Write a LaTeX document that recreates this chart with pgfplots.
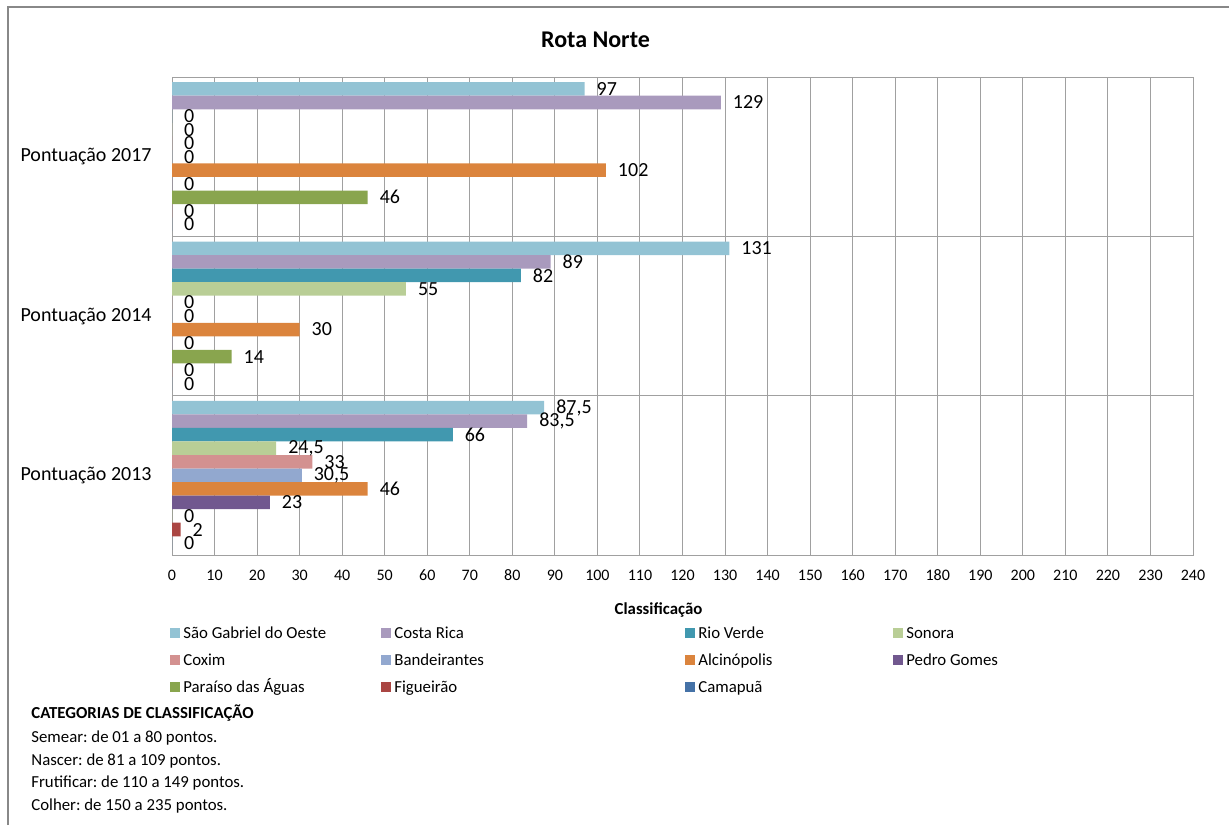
\documentclass[border=0pt]{standalone}
\usepackage{fontspec}
\setmainfont{Carlito}
\usepackage{pgfplots}
\pgfplotsset{compat=1.18}
\frenchspacing
\definecolor{cSG}{HTML}{93C3D4}
\definecolor{cCR}{HTML}{A99ABD}
\definecolor{cRV}{HTML}{4198AF}
\definecolor{cSo}{HTML}{B9CE96}
\definecolor{cCx}{HTML}{D39190}
\definecolor{cBa}{HTML}{92A8CF}
\definecolor{cAl}{HTML}{DB843D}
\definecolor{cPG}{HTML}{71588F}
\definecolor{cPa}{HTML}{89A54E}
\definecolor{cFi}{HTML}{AA4643}
\definecolor{cCa}{HTML}{4572A7}
\definecolor{gridgray}{HTML}{A0A0A0}
\definecolor{framegray}{HTML}{888888}
\pgfplotsset{sq legend/.style={legend image code/.code={\fill[##1] (0pt,-2.5pt) rectangle (5pt,2.5pt);}}}
\begin{document}
\frenchspacing
\begin{tikzpicture}
\useasboundingbox (0,0) rectangle (614.5pt,-412.5pt);
\draw[framegray, line width=1pt] (4pt,-412.5pt) -- (4pt,-3.5pt) -- (614.5pt,-3.5pt);
\node[font=\fontsize{12}{14}\selectfont\bfseries] at (297.75pt,-20pt) {Rota Norte};
\begin{axis}[
  at={(86pt,-277.5pt)}, anchor=south west,
  scale only axis, width=510.5pt, height=239pt,
  xbar, bar width=0.085,
  xmin=0, xmax=240, ymin=-0.5, ymax=2.5,
  xtick={0,10,...,240},
  ytick={0,1,2},
  yticklabels={Pontuação 2013, Pontuação 2014, Pontuação 2017},
  minor ytick={0.5,1.5},
  xmajorgrids=true, yminorgrids=true,
  major grid style={gridgray, line width=0.5pt},
  minor grid style={gridgray, line width=0.5pt},
  axis line style={gridgray, line width=0.5pt},
  major tick length=0pt, minor tick length=0pt,
  /pgf/number format/assume math mode=true,
  /pgf/number format/use comma,
  xticklabel style={font=\fontsize{8}{10}\selectfont, inner sep=0pt, anchor=base, yshift=-12.5pt},
  yticklabel style={font=\fontsize{10}{12}\selectfont, inner sep=0pt, anchor=east, xshift=-10pt},
  xlabel={Classificação},
  xlabel style={font=\fontsize{8.4}{10}\selectfont\bfseries, at={(axis description cs:0.4765,-0.115)}, anchor=center},
  clip=false,
  nodes near coords,
  every node near coord/.append style={font=\fontsize{10}{12}\selectfont, text=black, anchor=west, xshift=2.5pt},
  legend columns=4,
  legend cell align=left,
  legend style={draw=none, fill=none, at={(axis description cs:-0.002,-0.1444)}, anchor=north west,
    inner sep=0pt, column sep=0pt, row sep=4.5pt,
    font=\fontsize{8.4}{10}\selectfont,
    nodes={inner xsep=1.5pt, inner ysep=0pt, text height=7pt, text depth=2pt, anchor=west}},
]
\addplot[fill=cSG, draw=none, bar shift=0.425, sq legend] coordinates {(87.5,0) (131,1) (97,2)};
\addlegendentry{\makebox[97.5pt][l]{São Gabriel do Oeste}}
\addplot[fill=cCR, draw=none, bar shift=0.34, sq legend] coordinates {(83.5,0) (89,1) (129,2)};
\addlegendentry{\makebox[144pt][l]{Costa Rica}}
\addplot[fill=cRV, draw=none, bar shift=0.255, sq legend] coordinates {(66,0) (82,1) (0,2)};
\addlegendentry{\makebox[96pt][l]{Rio Verde}}
\addplot[fill=cSo, draw=none, bar shift=0.17, sq legend] coordinates {(24.5,0) (55,1) (0,2)};
\addlegendentry{Sonora}
\addplot[fill=cCx, draw=none, bar shift=0.085, sq legend] coordinates {(33,0) (0,1) (0,2)};
\addlegendentry{Coxim}
\addplot[fill=cBa, draw=none, bar shift=0, sq legend] coordinates {(30.5,0) (0,1) (0,2)};
\addlegendentry{Bandeirantes}
\addplot[fill=cAl, draw=none, bar shift=-0.085, sq legend] coordinates {(46,0) (30,1) (102,2)};
\addlegendentry{Alcinópolis}
\addplot[fill=cPG, draw=none, bar shift=-0.17, sq legend] coordinates {(23,0) (0,1) (0,2)};
\addlegendentry{Pedro Gomes}
\addplot[fill=cPa, draw=none, bar shift=-0.255, sq legend] coordinates {(0,0) (14,1) (46,2)};
\addlegendentry{Paraíso das Águas}
\addplot[fill=cFi, draw=none, bar shift=-0.34, sq legend] coordinates {(2,0) (0,1) (0,2)};
\addlegendentry{Figueirão}
\addplot[fill=cCa, draw=none, bar shift=-0.425, sq legend] coordinates {(0,0) (0,1) (0,2)};
\addlegendentry{Camapuã}
\end{axis}
\begin{scope}[every node/.style={font=\fontsize{8.4}{10}\selectfont, inner sep=0pt, anchor=base west}]
\node at (15.5pt,-359pt) {\bfseries CATEGORIAS DE CLASSIFICAÇÃO};
\node at (15.5pt,-371pt) {Semear: de 01 a 80 pontos.};
\node at (15.5pt,-382.5pt) {Nascer: de 81 a 109 pontos.};
\node at (15.5pt,-393.5pt) {Frutificar: de 110 a 149 pontos.};
\node at (15.5pt,-405pt) {Colher: de 150 a 235 pontos.};
\end{scope}
\end{tikzpicture}
\end{document}
